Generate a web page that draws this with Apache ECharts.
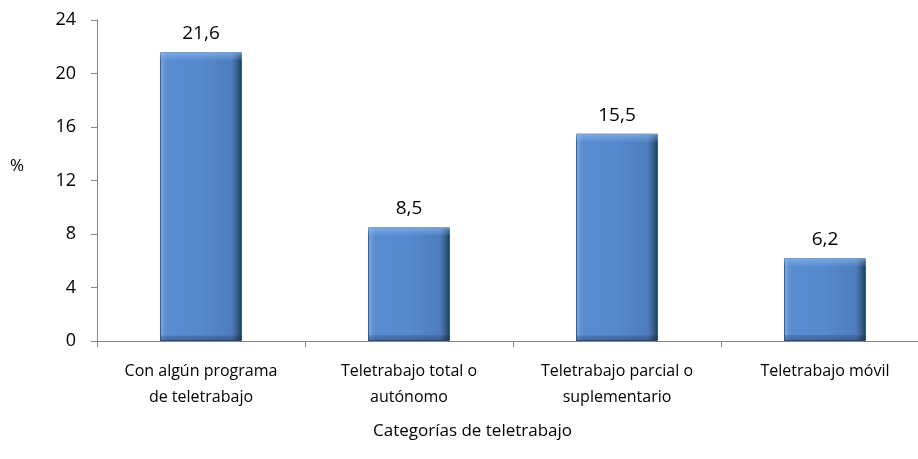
<!DOCTYPE html>
<html>
<head>
<meta charset="utf-8">
<script src="https://cdn.jsdelivr.net/npm/echarts@6/dist/echarts.min.js"></script>
<style>
html, body { margin: 0; padding: 0; background: #fff; overflow: hidden; width: 918px; height: 459px; }
#box1 { width: 930px; height: 459px; }
</style>
</head>
<body>
<div id="box1"></div>
<script>
var categories = ['Con algún programa\nde teletrabajo', 'Teletrabajo total o\nautónomo', 'Teletrabajo parcial o\nsuplementario', 'Teletrabajo móvil'];
var values = [21.6, 8.5, 15.5, 6.2];
var yTicks = [0, 4, 8, 12, 16, 20, 24];

var myChart = echarts.init(document.getElementById('box1'));
var font = 'Open Sans';
var pxPerUnit = 321 / 24;

var barColor = new echarts.graphic.LinearGradient(0, 0, 1, 0, [
    { offset: 0, color: '#7aa6e0' },
    { offset: 0.08, color: '#5a8dd0' },
    { offset: 0.5, color: '#5588cc' },
    { offset: 0.88, color: '#4d7dbd' },
    { offset: 0.95, color: '#36598a' },
    { offset: 1, color: '#1f3350' }
]);

// top/bottom bevel, fixed ~8px thick whatever the bar height
var bevelData = values.map(function (v) {
    var t = 8 / (v * pxPerUnit);
    return {
        value: v,
        itemStyle: {
            color: new echarts.graphic.LinearGradient(0, 0, 0, 1, [
                { offset: 0, color: 'rgba(170,205,250,0.55)' },
                { offset: t, color: 'rgba(120,170,235,0.15)' },
                { offset: t + 0.001, color: 'rgba(0,0,0,0)' },
                { offset: 1 - t * 0.7, color: 'rgba(0,0,0,0)' },
                { offset: 1 - t * 0.7 + 0.001, color: 'rgba(20,40,80,0.2)' },
                { offset: 1, color: 'rgba(20,40,80,0.4)' }
            ])
        }
    };
});

option = {
    animation: false,
    graphic: [
        {
            type: 'text',
            left: 373,
            top: 423,
            style: { text: 'Categorías de teletrabajo', font: '17px "Open Sans"', fill: '#000' }
        },
        {
            type: 'text',
            left: 10,
            top: 158,
            style: { text: '%', font: '17px "Open Sans"', fill: '#000' }
        }
    ],
    grid: {
        left: 97,
        right: 1,
        top: 20,
        bottom: 118
    },
    xAxis: {
        type: 'category',
        data: categories,
        axisLine: { lineStyle: { color: '#868686' } },
        axisTick: { show: true, length: 6, lineStyle: { color: '#868686' } },
        axisLabel: { fontFamily: font, fontSize: 16, color: '#000', lineHeight: 26, margin: 17, interval: 0 }
    },
    yAxis: {
        type: 'value',
        min: yTicks[0],
        max: yTicks[yTicks.length - 1],
        interval: 4,
        splitLine: { show: false },
        axisLine: { show: true, lineStyle: { color: '#868686' } },
        axisTick: { show: true, length: 6, lineStyle: { color: '#868686' } },
        axisLabel: { fontFamily: font, fontSize: 18, color: '#000', margin: 21 }
    },
    series: [
        {
            type: 'bar',
            data: values,
            barWidth: 82,
            itemStyle: {
                color: barColor,
                borderColor: '#3a5f92',
                borderWidth: 1
            },
            label: {
                show: true,
                position: 'top',
                distance: 9,
                fontFamily: font,
                fontSize: 19,
                color: '#000',
                formatter: function (p) {
                    return String(p.value).replace('.', ',');
                }
            }
        },
        {
            type: 'bar',
            data: bevelData,
            barWidth: 82,
            barGap: '-100%',
            silent: true
        }
    ]
};
myChart.setOption(option);
</script>
</body>
</html>
